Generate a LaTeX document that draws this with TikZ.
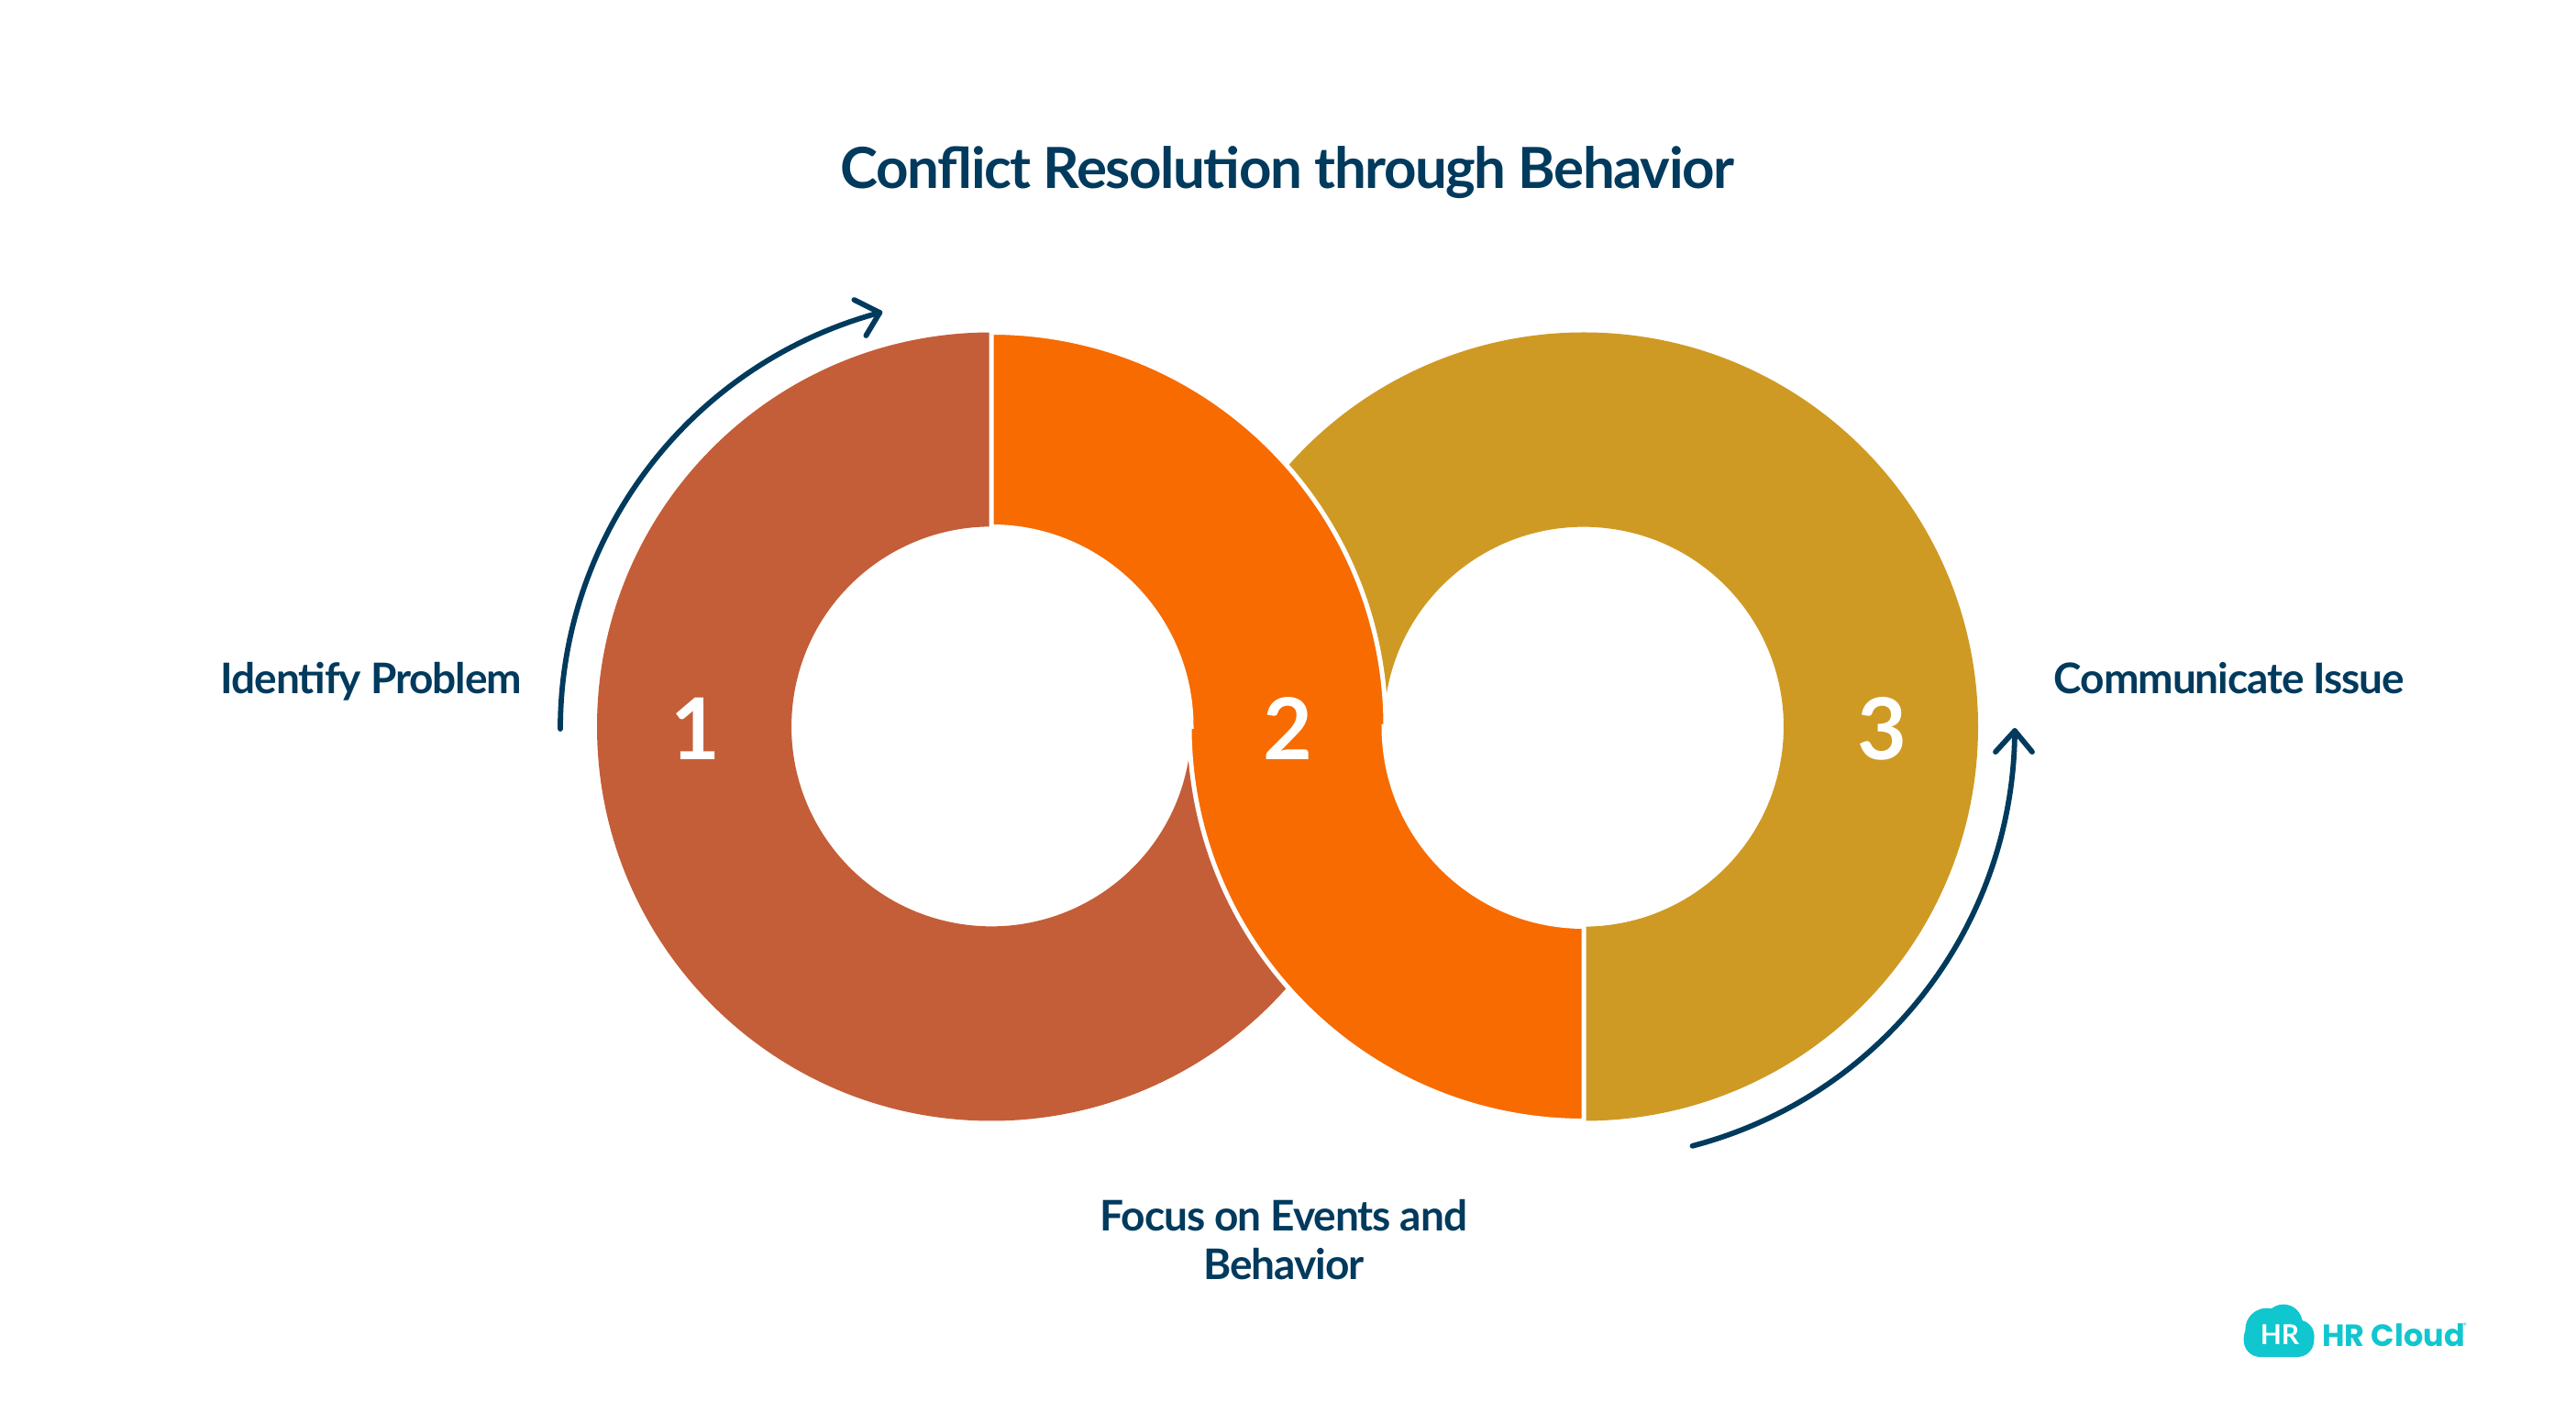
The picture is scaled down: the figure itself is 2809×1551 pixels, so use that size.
\documentclass[tikz,border=0pt]{standalone}
\usepackage{fontspec}
\setmainfont{Lato}[LetterSpace=-2.4]
\newfontfamily\digitfont{Lato}
\newfontfamily\logofont{Poppins}
\definecolor{brownseg}{HTML}{C45E38}
\definecolor{orangeseg}{HTML}{F76B00}
\definecolor{goldseg}{HTML}{CF9A24}
\definecolor{navyink}{HTML}{003A5D}
\definecolor{cloudteal}{HTML}{10C6CF}
\tikzset{
  arrowline/.style={draw=navyink,line width=5.8pt,line cap=round,line join=round},
  lbl/.style={text=navyink,font=\fontsize{46}{53}\selectfont\bfseries,inner sep=0pt,align=center},
  digit/.style={text=white,font=\digitfont\fontsize{93}{93}\selectfont\bfseries,inner sep=0pt},
}
\begin{document}
\begin{tikzpicture}[x=1pt,y=1pt]
\useasboundingbox (0,0) rectangle (2809,1551);
\coordinate (c1) at (1081,758.5);
\coordinate (c2) at (1727,758.5);
\coordinate (ca1) at (1081,756);
\coordinate (ca3) at (1727,756);
% brown
\fill[brownseg] ([shift={(90:430pt)}]c1) arc[start angle=90,end angle=318.7,radius=430pt]
  arc[start angle=221.3,end angle=183.17,radius=430pt]
  arc[start angle=353.7,end angle=90,radius=218pt] -- cycle;
% gold
\fill[goldseg] ([shift={(270:430pt)}]c2) arc[start angle=270,end angle=498.7,radius=430pt]
  arc[start angle=41.3,end angle=3.17,radius=430pt]
  arc[start angle=173.7,end angle=-90,radius=218pt] -- cycle;
% orange
\filldraw[fill=orangeseg,draw=white,line width=5pt] ([shift={(90:430pt)}]c1) arc[start angle=90,end angle=0,radius=430pt]
  -- ([shift={(180:218pt)}]c2) arc[start angle=180,end angle=270,radius=218pt]
  -- ([shift={(270:430pt)}]c2) arc[start angle=270,end angle=180,radius=430pt]
  -- ([shift={(0:218pt)}]c1) arc[start angle=0,end angle=90,radius=218pt] -- cycle;
% digits
\node[digit,anchor=base] (d1) at (758,722) {1};
\node[digit,anchor=base] (d2) at (1404,722) {2};
\node[digit,anchor=base] (d3) at (2052,722) {3};
% arrows
\coordinate (a1s) at ([shift={(180:470pt)}]ca1);
\coordinate (a1t) at ([shift={(105:470pt)}]ca1);
\draw[arrowline] (a1s) arc[start angle=180,end angle=105,radius=470pt];
\draw[arrowline] ([shift={(-28,14)}]a1t) -- (a1t) -- ([shift={(-15,-25)}]a1t);
\coordinate (a3s) at ([shift={(-75.4:470pt)}]ca3);
\coordinate (a3t) at ([shift={(-0.25:470pt)}]ca3);
\draw[arrowline] (a3s) arc[start angle=-75.4,end angle=-0.25,radius=470pt];
\draw[arrowline] ([shift={(-21,-23)}]a3t) -- (a3t) -- ([shift={(19,-23)}]a3t);
% text
\node[text=navyink,font=\fontsize{61.8}{70}\selectfont\bfseries,inner sep=0pt,anchor=base] (title) at (1404,1345) {Conflict Resolution through Behavior};
\node[lbl,anchor=base] (l1) at (405,794) {Identify Problem};
\node[lbl,anchor=base] (l3) at (2431,794) {Communicate Issue};
\node[lbl] (l2) at (1400,199) {Focus on Events and\\Behavior};
% logo
\fill[cloudteal] (2446.7,71) [rounded corners=18pt] -- (2523.3,71) -- (2523.3,110) -- (2446.7,110) -- cycle;
\fill[cloudteal] (2490,107.7) circle[radius=20.7pt];
\fill[cloudteal] (2471.7,101) circle[radius=23.3pt];
\fill[cloudteal] (2506,94) circle[radius=17.5pt];
\node[text=white,font=\digitfont\fontsize{30}{30}\selectfont\bfseries,inner sep=0pt,anchor=base] (lg1) at (2486,85) {HR};
\node[text=cloudteal,font=\logofont\fontsize{33.5}{34}\selectfont,inner sep=0pt,anchor=base] (lg2) at (2610,83) {\bfseries HR Cloud};
\node[text=cloudteal,font=\logofont\fontsize{8}{8}\selectfont,inner sep=0pt] (lg3) at (2688,105) {®};
\end{tikzpicture}
\end{document}
